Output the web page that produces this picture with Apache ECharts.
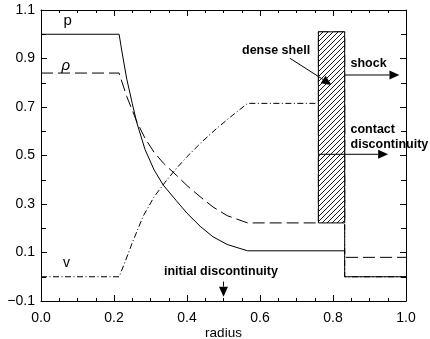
<!DOCTYPE html>
<html>
<head>
<meta charset="utf-8">
<script src="https://cdn.jsdelivr.net/npm/echarts@6/dist/echarts.min.js"></script>
<style>
  html, body { margin: 0; padding: 0; background: #fff; }
  #chart { width: 430px; height: 339px; }
</style>
</head>
<body>
<div id="chart"></div>
<script>
// Profiles across the rarefaction, shell and shock (normalised units)
const pRadius   = [0, 0.214, 0.221, 0.235, 0.25, 0.262, 0.285, 0.31, 0.335, 0.37, 0.40, 0.436, 0.471, 0.51, 0.566, 0.832, 0.832, 1.0];
const pValue    = [1.0, 1.0, 0.935, 0.815, 0.715, 0.638, 0.525, 0.44, 0.378, 0.315, 0.262, 0.208, 0.165, 0.133, 0.107, 0.107, 0.0, 0.0];

const rhoRadius = [0, 0.214, 0.221, 0.235, 0.25, 0.262, 0.285, 0.31, 0.335, 0.37, 0.40, 0.436, 0.471, 0.51, 0.566, 0.76, 0.76, 0.832, 0.832, 1.0];
const rhoValue  = [0.84, 0.84, 0.807, 0.743, 0.687, 0.641, 0.571, 0.513, 0.469, 0.42, 0.376, 0.33, 0.288, 0.252, 0.222, 0.222, 1.01, 1.01, 0.08, 0.08];

const vRadius   = [0, 0.214, 0.23, 0.25, 0.28, 0.31, 0.34, 0.37, 0.40, 0.44, 0.48, 0.52, 0.566, 0.832, 0.832, 1.0];
const vValue    = [0, 0, 0.06, 0.14, 0.25, 0.33, 0.39, 0.445, 0.495, 0.555, 0.61, 0.66, 0.715, 0.715, 0, 0];

// Dense shell between contact discontinuity and shock
const shellInner = 0.76;
const shellOuter = 0.832;
const shellBase  = 0.222;
const shellTop   = 1.01;

const xTicks = { min: 0, max: 1, step: 0.2 };
const yTicks = { min: -0.1, max: 1.1, step: 0.2 };

const FONT = '"Liberation Sans", Arial, Helvetica, sans-serif';

const zip = (xs, ys) => xs.map((x, i) => [x, ys[i]]);

// diagonal hatch tile
function hatchPattern() {
  const s = 5;
  const c = document.createElement('canvas');
  c.width = s; c.height = s;
  const g = c.getContext('2d');
  g.fillStyle = '#fff';
  g.fillRect(0, 0, s, s);
  g.strokeStyle = '#000';
  g.lineWidth = 0.9;
  g.beginPath();
  g.moveTo(0, s); g.lineTo(s, 0);
  g.moveTo(-1, 1); g.lineTo(1, -1);
  g.moveTo(s - 1, s + 1); g.lineTo(s + 1, s - 1);
  g.stroke();
  return { image: c, repeat: 'repeat' };
}

function makeXAxis(pos, showLabels, name) {
  return {
    type: 'value', position: pos, min: xTicks.min, max: xTicks.max, interval: xTicks.step,
    name: name, nameLocation: 'middle', nameGap: 25, nameMoveOverlap: false,
    nameTextStyle: { fontFamily: FONT, fontSize: 13.5, color: '#000' },
    axisLine: { show: true, onZero: false, lineStyle: { color: '#000', width: 1 } },
    axisTick: { show: true, inside: true, length: 6, lineStyle: { color: '#000', width: 1 } },
    minorTick: { show: true, splitNumber: 4, length: 3, lineStyle: { color: '#000', width: 1 } },
    axisLabel: { show: showLabels, margin: 10, fontFamily: FONT, fontSize: 14, color: '#000',
      formatter: v => v.toFixed(1) },
    splitLine: { show: false }
  };
}
function makeYAxis(pos, showLabels) {
  return {
    type: 'value', position: pos, min: yTicks.min, max: yTicks.max, interval: yTicks.step,
    axisLine: { show: true, onZero: false, lineStyle: { color: '#000', width: 1 } },
    axisTick: { show: true, inside: true, length: 6, lineStyle: { color: '#000', width: 1 } },
    minorTick: { show: true, splitNumber: 2, length: 5, lineStyle: { color: '#000', width: 1 } },
    axisLabel: { show: showLabels, margin: 6, fontFamily: FONT, fontSize: 14, color: '#000',
      formatter: v => (v < 0 ? '\u2212' : '') + Math.abs(v).toFixed(1) },
    splitLine: { show: false }
  };
}

const chart = echarts.init(document.getElementById('chart'), null, { renderer: 'canvas' });

const option = {
  animation: false,
  backgroundColor: '#fff',
  grid: { left: 41, top: 10, width: 365, height: 291, containLabel: false, outerBoundsMode: 'none' },
  xAxis: [makeXAxis('bottom', true, 'radius'), makeXAxis('top', false, '')],
  yAxis: [makeYAxis('left', true), makeYAxis('right', false)],
  series: [
    {
      name: 'p', type: 'line', data: zip(pRadius, pValue), showSymbol: false, z: 3,
      lineStyle: { color: '#000', width: 1, type: 'solid' }
    },
    {
      name: 'rho', type: 'line', data: zip(rhoRadius, rhoValue), showSymbol: false, z: 3,
      lineStyle: { color: '#000', width: 1, type: [12, 5] }
    },
    {
      name: 'v', type: 'line', data: zip(vRadius, vValue), showSymbol: false, z: 3,
      lineStyle: { color: '#000', width: 1, type: [6, 2.5, 1, 2.5] }
    },
    {
      name: 'shell', type: 'custom', z: 6,
      data: [[shellInner, shellOuter, shellBase, shellTop]],
      encode: { x: [0, 1], y: [2, 3] },
      renderItem: function (params, api) {
        const a = api.coord([api.value(0), api.value(3)]);
        const b = api.coord([api.value(1), api.value(2)]);
        return {
          type: 'rect',
          shape: { x: a[0], y: a[1], width: b[0] - a[0], height: b[1] - a[1] },
          style: { fill: hatchPattern(), stroke: '#000', lineWidth: 1 }
        };
      }
    }
  ]
};
chart.setOption(option);

// Annotations, placed in data coordinates
const labels = [
  { text: 'p', x: 0.073, y: 1.055, size: 15, weight: 'normal', align: 'center' },
  { text: 'ρ', x: 0.068, y: 0.87, size: 15, weight: 'normal', align: 'center', style: 'italic' },
  { text: 'v', x: 0.07, y: 0.058, size: 14, weight: 'normal', align: 'center' },
  { text: 'dense shell', x: 0.644, y: 0.932, size: 12.5, weight: 'bold', align: 'center' },
  { text: 'shock', x: 0.848, y: 0.88, size: 12.5, weight: 'bold', align: 'left' },
  { text: 'contact', x: 0.848, y: 0.605, size: 12.5, weight: 'bold', align: 'left' },
  { text: 'discontinuity', x: 0.848, y: 0.547, size: 12.5, weight: 'bold', align: 'left' },
  { text: 'initial discontinuity', x: 0.493, y: 0.021, size: 12.5, weight: 'bold', align: 'center' }
];
const arrows = [
  { from: [0.682, 0.901], to: [0.796, 0.791] },
  { from: [shellOuter, 0.832], to: [0.982, 0.832] },
  { from: [shellInner, 0.505], to: [0.951, 0.505] },
  { from: [0.5, -0.02], to: [0.5, -0.082] }
];

const toPx = pt => chart.convertToPixel({ xAxisIndex: 0, yAxisIndex: 0 }, pt);
const elements = [];
labels.forEach(l => {
  const p = toPx([l.x, l.y]);
  elements.push({
    type: 'text', x: p[0], y: p[1], z: 100,
    style: {
      text: l.text, fill: '#000', align: l.align, verticalAlign: 'middle',
      font: (l.style || 'normal') + ' ' + l.weight + ' ' + l.size + 'px ' + FONT
    }
  });
});
arrows.forEach(a => {
  const p0 = toPx(a.from), p1 = toPx(a.to);
  const dx = p1[0] - p0[0], dy = p1[1] - p0[1];
  const len = Math.hypot(dx, dy);
  const ux = dx / len, uy = dy / len;
  const L = 10, W = 4.5;
  const bx = p1[0] - ux * L, by = p1[1] - uy * L;
  elements.push({
    type: 'line', z: 100,
    shape: { x1: p0[0], y1: p0[1], x2: bx, y2: by },
    style: { stroke: '#000', lineWidth: 1 }
  });
  elements.push({
    type: 'polygon', z: 100,
    shape: { points: [[p1[0], p1[1]], [bx - uy * W, by + ux * W], [bx + uy * W, by - ux * W]] },
    style: { fill: '#000' }
  });
});
chart.setOption({ graphic: { elements: elements } });
</script>
</body>
</html>
